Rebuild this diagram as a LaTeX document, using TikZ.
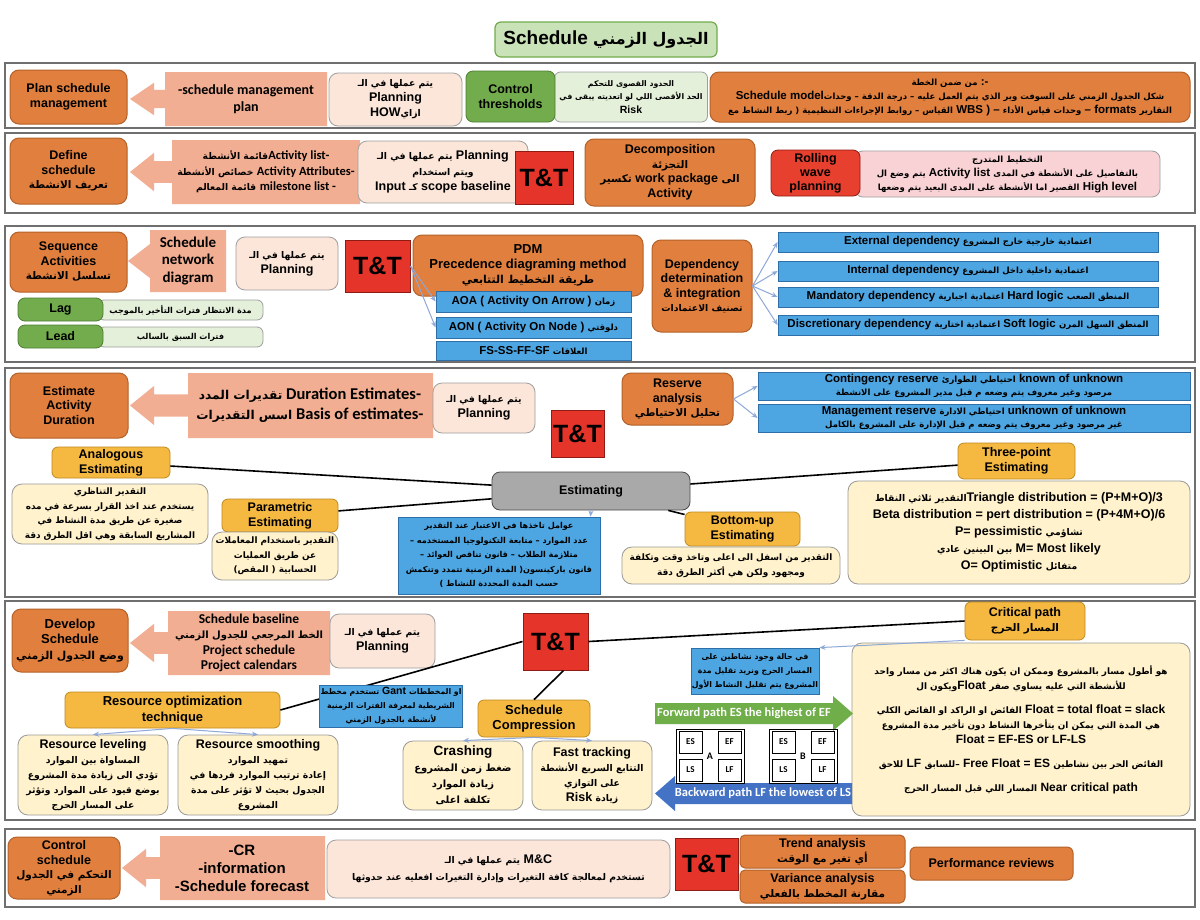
\documentclass[tikz,border=0pt]{standalone}
\usepackage{fontspec}
\setmainfont{Liberation Sans}
\newfontfamily\arfont[Script=Arabic,Scale=0.74]{DejaVu Sans}
\newfontfamily\arbfont[Script=Arabic,Scale=0.84]{DejaVu Sans}
\newfontfamily\calfont{Carlito}
\TeXXeTstate=1
\usetikzlibrary{arrows.meta}

\definecolor{orng}{HTML}{E07F3E}
\definecolor{orngdk}{HTML}{B4622A}
\definecolor{salmon}{HTML}{F2AE92}
\definecolor{peach}{HTML}{FBE6D9}
\definecolor{grn}{HTML}{72AC4D}
\definecolor{grndk}{HTML}{4F7F33}
\definecolor{ltgrn}{HTML}{E4F0DA}
\definecolor{ttred}{HTML}{E5352A}
\definecolor{ttdk}{HTML}{8E1C14}
\definecolor{rwred}{HTML}{E8402E}
\definecolor{rwpink}{HTML}{F9D2D6}
\definecolor{sky}{HTML}{4DA6E2}
\definecolor{skydk}{HTML}{2F6FA8}
\definecolor{gold}{HTML}{F5B942}
\definecolor{golddk}{HTML}{C08A1E}
\definecolor{cream}{HTML}{FFF2CC}
\definecolor{ttlgrn}{HTML}{C9E2B8}
\definecolor{gry}{HTML}{A9A9A9}
\definecolor{framegray}{HTML}{6F6F6F}
\definecolor{linkblue}{HTML}{8EA8D8}
\definecolor{fwdgrn}{HTML}{6FAE48}
\definecolor{bwdblue}{HTML}{4472C4}

\newcommand\AR[1]{{\arfont\beginR #1\endR}}
\newcommand\ARB[1]{{\arbfont\beginR #1\endR}}
\newcommand\CL[1]{{\calfont #1}}
\newcommand\fsz[2]{\fontsize{#1}{#2}\selectfont}
% left-pointing block arrow: tip x, body left, body right, top, bottom
\newcommand\salarrow[5]{%
  \pgfmathsetmacro\am{(#4+#5)/2}%
  \pgfmathsetmacro\ah{(#5-#4)*0.3}%
  \pgfmathsetmacro\as{(#5-#4)*0.17}%
  \fill[salmon] (#1,\am) -- (#1+24,\am-\ah) -- (#1+24,\am-\as) -- (#2,\am-\as)
    -- (#2,#4) -- (#3,#4) -- (#3,#5) -- (#2,#5) -- (#2,\am+\as)
    -- (#1+24,\am+\as) -- (#1+24,\am+\ah) -- cycle;}

\tikzset{
  wh/.style 2 args={minimum width=#1, minimum height=#2},
  procbox/.style={fill=orng, draw=orngdk, line width=1pt, rounded corners=9pt,
    align=center, inner sep=1pt, font=\fsz{12.5}{14.5}\bfseries},
  planbox/.style={fill=peach, draw=gray!75, line width=0.8pt, rounded corners=9pt,
    align=center, inner sep=1pt, font=\fsz{12.5}{15}\bfseries},
  arrtxt/.style={align=center, inner sep=0pt},
  ttbox/.style={fill=ttred, draw=ttdk, line width=1pt, inner sep=0pt,
    font=\fsz{25}{28}\bfseries},
  grnbox/.style={fill=grn, draw=grndk, line width=0.8pt, rounded corners=7pt,
    align=center, inner sep=1pt, font=\fsz{12.5}{15}\bfseries},
  ltgbox/.style={fill=ltgrn, draw=gray!75, line width=0.8pt, rounded corners=6pt,
    align=center, inner sep=1pt, font=\fsz{11}{13.5}\bfseries},
  skybox/.style={fill=sky, draw=skydk, line width=0.8pt, align=center,
    inner sep=1pt, font=\fsz{11.5}{13.5}\bfseries},
  goldbox/.style={fill=gold, draw=golddk, line width=0.8pt, rounded corners=6pt,
    align=center, inner sep=1pt, font=\fsz{12.5}{15}\bfseries},
  crmbox/.style={fill=cream, draw=gray!80, line width=0.8pt, rounded corners=10pt,
    align=center, inner sep=1pt, font=\fsz{11}{14}\bfseries},
  rwbox/.style={fill=rwred, draw=ttdk, line width=0.8pt, rounded corners=7pt,
    align=center, inner sep=1pt, font=\fsz{12.5}{14}\bfseries},
  rwtxt/.style={fill=rwpink, draw=gray!75, line width=0.8pt, rounded corners=8pt,
    align=center, inner sep=1pt, font=\fsz{11.5}{14}\bfseries},
  ttlbox/.style={fill=ttlgrn, draw=grn, line width=1.2pt, rounded corners=6pt,
    inner sep=2pt, font=\fsz{19}{22}\bfseries},
  estbox/.style={fill=gry, draw=gray!60!black, line width=0.8pt, rounded corners=8pt,
    font=\fsz{12.5}{15}\bfseries},
  frame/.style={draw=framegray, line width=1.5pt},
  link/.style={draw=linkblue, line width=1pt, -{Stealth[length=6pt,width=5pt]}},
  tie/.style={draw=black, line width=1.6pt},
  actcell/.style={draw=black, line width=0.7pt, fill=white, inner sep=0pt,
    minimum width=23, minimum height=22, font=\calfont\fsz{9}{10}\bfseries},
}

\begin{document}
\begin{tikzpicture}[x=1pt,y=-1pt]
\useasboundingbox (0,0) rectangle (1200,919);
\fill[white] (0,0) rectangle (1200,919);

\foreach \ya/\yb in {63/128,133/213,226/362,368/597,601/820,829/907}
  \draw[frame] (5,\ya) rectangle (1195,\yb);

\node[ttlbox, wh={222}{35}] (ttl) at (606,39.5) {Schedule \ARB{الجدول الزمني}};

% plan schedule management
\node[procbox, wh={117}{54}] (psm) at (68.5,97) {Plan schedule\\management};
\salarrow{130}{165}{327}{72}{126}
\node[arrtxt, font=\calfont\fsz{14}{16.5}\bfseries] (psmout) at (246,99) {-schedule management\\plan};
\node[planbox, wh={133}{53}] (psmin) at (395.5,99.5) {\AR{يتم عملها في الـ}\\Planning\\HOW\AR{ازاي}};
\node[ltgbox, wh={153}{50}, font=\fsz{10.5}{13.5}\bfseries] (thrtxt) at (631,97) {\AR{الحدود القصوى للتحكم}\\\AR{الحد الأقصى اللي لو اتعديته يبقى في}\\Risk};
\node[grnbox, wh={89}{51}] (thr) at (510.5,96.5) {Control\\thresholds};
\node[procbox, wh={480}{50}, font=\fsz{11.5}{14}\bfseries] (model) at (950,97)
  {\AR{من ضمن الخطة} :-\\
   Schedule model\AR{شكل الجدول الزمني على السوفت وير الذي يتم العمل عليه – درجة الدقة – وحدات}\\
   \AR{القياس – روابط الإجراءات التنظيمية ( ربط النشاط مع} WBS ) – \AR{وحدات قياس الأداء} – formats \AR{التقارير}};

% define schedule
\node[procbox, wh={117}{66}] (dfs) at (68.5,171) {Define\\schedule\\\ARB{تعريف الانشطة}};
\salarrow{130}{172}{360}{140}{204}
\node[arrtxt, font=\fsz{12.5}{15.5}\bfseries] (dfsout) at (266,172)
  {\AR{قائمة الأنشطة}\CL{Activity list-}\\
   \AR{خصائص الأنشطة} \CL{Activity Attributes-}\\
   \AR{قائمة المعالم} \CL{milestone list -}};
\node[planbox, wh={170}{62}, font=\fsz{12.5}{15.5}\bfseries] (dfsin) at (443,172)
  {\AR{يتم عملها في الـ} Planning\\\AR{ويتم استخدام}\\Input \AR{كـ} scope baseline};
\node[ttbox, wh={58}{53}] (dfstt) at (544,177.5) {T\&T};
\node[procbox, wh={170}{67}] (dec) at (670,172.5)
  {Decomposition\\\ARB{التجزئة}\\\ARB{تكسير} work package \ARB{الى}\\Activity};
\node[rwtxt, wh={305}{46}] (rwtxt) at (1007.5,174)
  {\AR{التخطيط المتدرج}\\
   \AR{يتم وضع ال} Activity list \AR{بالتفاصيل على الأنشطة في المدى}\\
   \AR{القصير اما الأنشطة على المدى البعيد يتم وضعها} High level};
\node[rwbox, wh={89}{46}] (rw) at (815.5,173) {Rolling\\wave\\planning};

% sequence activities
\node[procbox, wh={117}{60}] (seq) at (68.5,262) {Sequence\\Activities\\\ARB{تسلسل الانشطة}};
\salarrow{128}{150}{226}{230}{292}
\node[arrtxt, font=\calfont\fsz{15}{17.5}\bfseries] (seqout) at (188,261) {Schedule\\network\\diagram};
\node[planbox, wh={102}{53}] (seqin) at (287,263.5) {\AR{يتم عملها في الـ}\\Planning};
\node[ttbox, wh={65}{52}] (seqtt) at (377.5,266) {T\&T};
\node[procbox, wh={230}{61}, font=\fsz{13}{15}\bfseries] (pdm) at (528,265.5)
  {PDM\\Precedence diagraming method\\\ARB{طريقة التخطيط التتابعي}};
\node[skybox, wh={195}{21}] (aoa) at (533.5,301.5) {AOA ( Activity On Arrow ) \AR{زمان}};
\node[skybox, wh={195}{21}] (aon) at (533.5,327.5) {AON ( Activity On Node ) \AR{دلوقتي}};
\node[skybox, wh={195}{19}] (fs) at (533.5,350.5) {FS-SS-FF-SF \AR{العلاقات}};
\draw[link] (seqtt.east) -- (aoa.west);
\draw[link] (seqtt.east) -- (aon.west);
\node[ltgbox, wh={165}{20}] (lagtxt) at (180.5,310) {\AR{مدة الانتظار فترات التأخير بالموجب}};
\node[grnbox, wh={85}{23}] (lag) at (60.5,309.5) {Lag};
\node[ltgbox, wh={165}{20}] (leadtxt) at (180.5,337) {\AR{فترات السبق  بالسالب}};
\node[grnbox, wh={85}{23}] (lead) at (60.5,336.5) {Lead};
\node[procbox, wh={100}{92}] (dep) at (702,286)
  {Dependency\\determination\\\& integration\\\AR{تصنيف الاعتمادات}};
\foreach \nm/\yy/\txt in {
    ext/242/{External dependency \AR{اعتمادية خارجية خارج المشروع}},
    int/271/{Internal dependency \AR{اعتمادية داخلية داخل المشروع}},
    man/297/{Mandatory dependency \AR{اعتمادية اجبارية} Hard logic \AR{المنطق الصعب}},
    dis/325/{Discretionary dependency \AR{اعتمادية اختارية} Soft logic \AR{المنطق السهل المرن}}} {
  \node[skybox, wh={380}{20}] (\nm) at (968,\yy) {\txt};
  \draw[link] (dep.east) -- (\nm.west);
}

% estimate activity duration
\node[procbox, wh={118}{65}] (ead) at (69,405.5) {Estimate\\Activity\\Duration};
\salarrow{130}{188}{433}{373}{438}
\node[arrtxt, font=\calfont\fsz{16.5}{20}\bfseries] (eadout) at (310,405)
  {\AR{تقديرات المدد} Duration Estimates-\\\AR{اسس التقديرات} Basis of estimates-};
\node[planbox, wh={102}{50}] (eadin) at (484,408) {\AR{يتم عملها في الـ}\\Planning};
\node[ttbox, wh={53}{47}] (eadtt) at (577.5,433.5) {T\&T};
\node[procbox, wh={111}{52}] (rsv) at (677.5,399) {Reserve\\analysis\\\ARB{تحليل الاحتياطي}};
\node[skybox, wh={432}{28}, font=\fsz{11.5}{13}\bfseries] (cont) at (974,386)
  {Contingency reserve \AR{احتياطي الطوارئ} known of unknown\\
   \AR{مرصود وغير معروف يتم وضعه م قبل مدير المشروع على الانشطة}};
\node[skybox, wh={432}{28}, font=\fsz{11.5}{13}\bfseries] (mgmt) at (974,418)
  {Management reserve \AR{احتياطي الادارة} unknown of unknown\\
   \AR{غير مرصود وغير معروف يتم وضعه م قبل الإدارة على المشروع بالكامل}};
\draw[link] (rsv.east) -- (cont.west);
\draw[link] (rsv.east) -- (mgmt.west);
\node[estbox, wh={198}{38}] (estm) at (591,491) {Estimating};
\node[goldbox, wh={118}{31}] (ana) at (111,462.5) {Analogous\\Estimating};
\node[crmbox, wh={196}{60}, font=\fsz{12}{14.5}\bfseries] (anad) at (110,514)
  {\AR{التقدير التناظري}\\\AR{يستخدم عند اخذ القرار بسرعة في مده}\\
   \AR{صغيرة عن طريق مدة النشاط في}\\\AR{المشاريع السابقة وهي اقل الطرق دقة}};
\node[goldbox, wh={116}{33}] (par) at (280,515.5) {Parametric\\Estimating};
\node[crmbox, wh={126}{48}, font=\fsz{12}{14.5}\bfseries] (pard) at (275,556)
  {\AR{التقدير باستخدام المعاملات}\\\AR{عن طريق العمليات}\\\AR{الحسابية ( المقص)}};
\node[skybox, wh={202}{77}, font=\fsz{11}{14.5}\bfseries] (fac) at (499,555.5)
  {\AR{عوامل تاخذها في الاعتبار عند التقدير}\\
   \AR{عدد الموارد – متابعة التكنولوجيا المستخدمه –}\\
   \AR{متلازمة الطلاب – قانون تناقص العوائد –}\\
   \AR{قانون باركينسون( المدة الزمنية تتمدد وتنكمش}\\
   \AR{حسب المدة المحددة للنشاط )}};
\node[goldbox, wh={115}{34}] (bu) at (742.5,529) {Bottom-up\\Estimating};
\node[crmbox, wh={218}{37}, font=\fsz{12}{15}\bfseries] (bud) at (731,565.5)
  {\AR{التقدير من اسفل الى اعلى وتاخذ وقت وتكلفة}\\\AR{ومجهود ولكن هي أكثر الطرق دقة}};
\node[goldbox, wh={117}{36}] (tp) at (1016.5,461) {Three-point\\Estimating};
\node[crmbox, wh={342}{103}, font=\fsz{12.5}{17}\bfseries] (tpd) at (1019,532.5)
  {\AR{التقدير ثلاثي النقاط}Triangle distribution = (P+M+O)/3\\
   Beta distribution = pert distribution = (P+4M+O)/6\\
   P= pessimistic \AR{تشاؤمي}\\
   \AR{بين البينين عادي} M= Most likely\\
   O= Optimistic \AR{متفائل}};
\draw[tie] (ana) -- (estm);
\draw[tie] (par) -- (estm);
\draw[tie] (bu) -- (estm);
\draw[tie] (tp) -- (estm);
\draw[link] (estm.south) -- ([xshift=-10]fac.north east);

% develop schedule
\node[procbox, wh={116}{63}, font=\fsz{13}{15.5}\bfseries] (dev) at (70,640.5)
  {Develop\\Schedule\\\ARB{وضع الجدول الزمني}};
\salarrow{130}{168}{330}{611}{675}
\node[arrtxt, font=\calfont\fsz{13.5}{15.5}\bfseries] (devout) at (249,643)
  {Schedule baseline\\\AR{الخط المرجعي للجدول الزمني}\\Project schedule\\Project calendars};
\node[planbox, wh={105}{54}] (devin) at (382.5,641) {\AR{يتم عملها في الـ}\\Planning};
\node[ttbox, wh={65}{57}] (devtt) at (555.5,641.5) {T\&T};
\node[goldbox, wh={120}{38}] (cp) at (1025,621) {Critical path\\\ARB{المسار الحرج}};
\node[skybox, wh={120}{46}, font=\fsz{10.5}{14}\bfseries] (cpn) at (755,671)
  {\AR{في حالة وجود نشاطين على}\\\AR{المسار الحرج ونريد تقليل مدة}\\\AR{المشروع يتم تقليل النشاط الأول}};
\node[crmbox, wh={338}{173}, font=\fsz{12}{15}\bfseries] (cpd) at (1021,729.5)
  {\AR{هو أطول مسار بالمشروع وممكن ان يكون هناك اكثر من مسار واحد}\\
   \AR{ويكون ال}Float \AR{للأنشطة التي عليه يساوي صفر}\\[9pt]
   \AR{الفائض او الراكد او الفائض الكلي} Float = total float = slack\\
   \AR{هي المدة التي يمكن ان يتأخرها النشاط دون تأخير مدة المشروع}\\
   Float = EF-ES or LF-LS\\[9pt]
   \AR{للاحق} LF \AR{–للسابق} Free Float = ES \AR{الفائض الحر بين نشاطين}\\[9pt]
   \AR{المسار اللي قبل المسار الحرج} Near critical path};
\draw[tie] (devtt.east) -- (cp.west);
\draw[link] (cp.south west) -- (cpn.north east);
\node[goldbox, wh={215}{36}, font=\fsz{13}{15.5}\bfseries] (rot) at (172.5,710) {Resource optimization\\technique};
\draw[tie] (rot.east) -- (devtt.west);
\node[skybox, wh={142}{42}, font=\fsz{10.5}{14}\bfseries] (gnt) at (391,706)
  {\AR{تستخدم مخطط} Gant \AR{او المخططات}\\\AR{الشريطية لمعرفة  الفترات الزمنية}\\\AR{لأنشطة بالجدول الزمني}};
\node[goldbox, wh={112}{37}, font=\fsz{13}{15.5}\bfseries] (cmp) at (534,718.5) {Schedule\\Compression};
\draw[tie] ([xshift=8]devtt.south) -- (cmp.north);
\node[crmbox, wh={150}{80}, font=\fsz{12.5}{15}\bfseries] (lev) at (93,775)
  {Resource leveling\\\AR{المساواة بين الموارد}\\\AR{تؤدي الى زيادة مدة المشروع}\\
   \AR{بوضع قيود على الموارد وتؤثر}\\\AR{على المسار الحرج}};
\node[crmbox, wh={160}{80}, font=\fsz{12.5}{15}\bfseries] (smo) at (258,775)
  {Resource smoothing\\\AR{تمهيد الموارد}\\\AR{إعادة ترتيب الموارد فردها في}\\
   \AR{الجدول بحيث لا تؤثر على مدة}\\\AR{المشروع}};
\draw[link] (rot.south) -- (lev.north);
\draw[link] (rot.south) -- (smo.north);
\node[crmbox, wh={120}{69}, font=\fsz{13.5}{16}\bfseries] (cra) at (463,775.5)
  {Crashing\\\AR{ضغط زمن المشروع}\\\AR{زيادة الموارد}\\\AR{تكلفة اعلى}};
\node[crmbox, wh={120}{69}, font=\fsz{12.5}{15}\bfseries] (fst) at (592,775.5)
  {Fast tracking\\\AR{التتابع السريع الأنشطة}\\\AR{على التوازي}\\Risk \AR{زيادة}};
\draw[link] (cmp.south) -- (cra.north);
\draw[link] (cmp.south) -- (fst.north);
\fill[fwdgrn] (655,703) -- (833,703) -- (833,696) -- (853,713.5) -- (833,731)
  -- (833,724) -- (655,724) -- cycle;
\node[text=white, font=\calfont\fsz{12.5}{14}\bfseries] (fwd) at (744,713.5) {Forward path ES the highest of EF};
\fill[bwdblue] (655,793.5) -- (675,776) -- (675,783) -- (852,783) -- (852,804)
  -- (675,804) -- (675,811) -- cycle;
\node[text=white, font=\calfont\fsz{12.5}{14}\bfseries] (bwd) at (763,793.5) {Backward path LF the lowest of LS};
\foreach \gx/\gl in {676/A,769/B} {
  \draw[line width=0.7pt] (\gx,729) rectangle (\gx+68,783);
  \node[actcell] (es\gl) at (\gx+14.5,742) {ES};
  \node[actcell] (ef\gl) at (\gx+53.5,742) {EF};
  \node[actcell] (ls\gl) at (\gx+14.5,770) {LS};
  \node[actcell] (lf\gl) at (\gx+53.5,770) {LF};
  \node[inner sep=0pt, font=\calfont\fsz{10}{11}\bfseries] (act\gl) at (\gx+34,756) {\gl};
}

% control schedule
\node[procbox, wh={112}{62}] (csc) at (64,868)
  {Control\\schedule\\\ARB{التحكم في الجدول}\\\ARB{الزمني}};
\salarrow{122}{160}{325}{836}{900}
\node[arrtxt, font=\fsz{15}{18}\bfseries] (cscout) at (242,868) {-CR\\-information\\-Schedule forecast};
\node[planbox, wh={343}{58}, font=\fsz{12.5}{17}\bfseries] (cscin) at (498.5,869)
  {\AR{يتم عملها في الـ} M\&C\\\AR{تستخدم لمعالجة كافة التغيرات وإدارة التغيرات افعليه عند حدوثها}};
\node[ttbox, wh={63}{52}] (csctt) at (706.5,864) {T\&T};
\node[procbox, wh={165}{33}, rounded corners=5pt] (trd) at (822.5,851.5) {Trend  analysis\\\ARB{أي تغير مع الوقت}};
\node[procbox, wh={165}{33}, rounded corners=5pt] (var) at (822.5,886.5) {Variance  analysis\\\ARB{مقارنة المخطط بالفعلي}};
\node[procbox, wh={163}{33}, rounded corners=6pt] (prf) at (991.5,863.5) {Performance reviews};
\end{tikzpicture}
\end{document}
